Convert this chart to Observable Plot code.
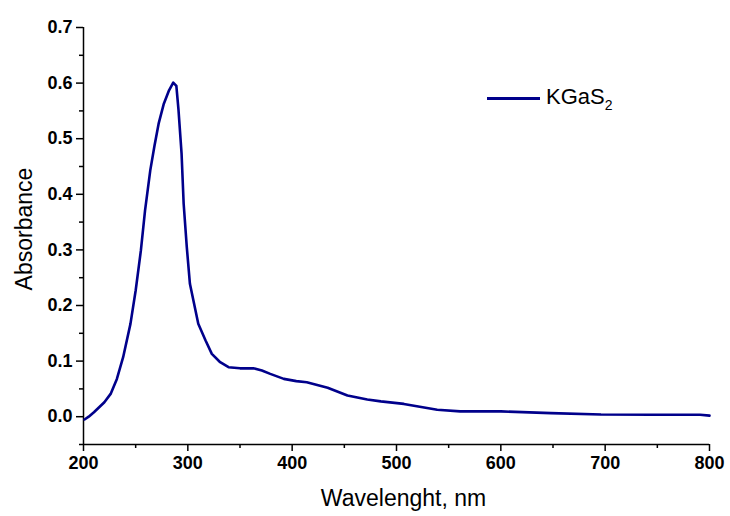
<!DOCTYPE html>
<html><head><meta charset="utf-8">
<script src="https://cdn.jsdelivr.net/npm/d3@7"></script>
<script src="https://cdn.jsdelivr.net/npm/@observablehq/plot@0.6"></script>
<style>
body{margin:0;background:#fff;}
#wrap{position:relative;width:730px;height:516px;font-family:"Liberation Sans",Arial,sans-serif;}
#legend{position:absolute;left:487px;top:84px;display:flex;align-items:center;font-size:22px;color:#000;}
#legend .sw{display:inline-block;width:53px;height:0;border-top:3px solid #00008b;margin-right:6px;}
#legend sub{font-size:14px;vertical-align:-6px;}
</style></head>
<body><div id="wrap"><div id="legend"><span class="sw"></span><span>KGaS<sub>2</sub></span></div></div>
<script>
const wavelength = [201, 205, 210, 215, 220, 226, 232, 238, 245, 250, 255, 259, 264, 268, 272, 277, 282, 286, 289, 291, 294, 296, 299, 302, 306, 310, 317, 323, 331, 339, 350, 363, 371, 379, 392, 404, 414, 434, 453, 472, 485, 507, 539, 561, 600, 648, 696, 744, 791, 800];
const absorbance = [-0.005, 0.0, 0.008, 0.017, 0.026, 0.041, 0.068, 0.107, 0.167, 0.227, 0.299, 0.371, 0.443, 0.487, 0.527, 0.563, 0.587, 0.601, 0.595, 0.553, 0.473, 0.383, 0.305, 0.239, 0.203, 0.167, 0.137, 0.113, 0.098, 0.089, 0.087, 0.087, 0.083, 0.077, 0.068, 0.064, 0.062, 0.052, 0.038, 0.031, 0.0275, 0.023, 0.0126, 0.0095, 0.0095, 0.0065, 0.004, 0.0036, 0.0036, 0.002];
const xTicks = [200, 300, 400, 500, 600, 700, 800];
const xMinor = [250, 350, 450, 550, 650, 750];
const yTicks = [0, 0.1, 0.2, 0.3, 0.4, 0.5, 0.6, 0.7];
const yMinor = [-0.05, 0.05, 0.15, 0.25, 0.35, 0.45, 0.55, 0.65];
const xTitle = "Wavelenght, nm";
const yTitle = "Absorbance";

const data = wavelength.map((w, i) => ({w, a: absorbance[i]}));
const font = "Liberation Sans, Arial, sans-serif";
const chart = Plot.plot({
  width: 730, height: 516,
  marginLeft: 83, marginRight: 21, marginTop: 27, marginBottom: 72,
  style: {fontFamily: font, background: "white", color: "black"},
  x: {domain: [200, 800]},
  y: {domain: [-0.05, 0.7]},
  marks: [
    Plot.axisY({ticks: yTicks, tickFormat: d3.format(".1f"), tickSize: 7, tickPadding: 4, fontSize: 18, fontWeight: "bold", strokeWidth: 1.5, label: null}),
    Plot.axisY({ticks: yMinor, tickFormat: () => "", tickSize: 4, strokeWidth: 1.5, label: null}),
    Plot.axisX({ticks: xTicks, tickFormat: d3.format("d"), tickSize: 7, tickPadding: 5, fontSize: 18, fontWeight: "bold", strokeWidth: 1.5, label: null}),
    Plot.axisX({ticks: xMinor, tickFormat: () => "", tickSize: 4, strokeWidth: 1.5, label: null}),
    Plot.ruleX([200], {stroke: "black", strokeWidth: 1.5}),
    Plot.ruleY([-0.05], {stroke: "black", strokeWidth: 1.5}),
    Plot.line(data, {x: "w", y: "a", stroke: "#00008b", strokeWidth: 2.6}),
    Plot.text([yTitle], {frameAnchor: "left", textAnchor: "middle", dx: -59, dy: -7, rotate: -90, fontSize: 23, fill: "black"}),
    Plot.text([xTitle], {frameAnchor: "bottom", dy: 61, dx: 7, fontSize: 23, fill: "black"})
  ]
});
document.getElementById("wrap").prepend(chart);
</script></body></html>
